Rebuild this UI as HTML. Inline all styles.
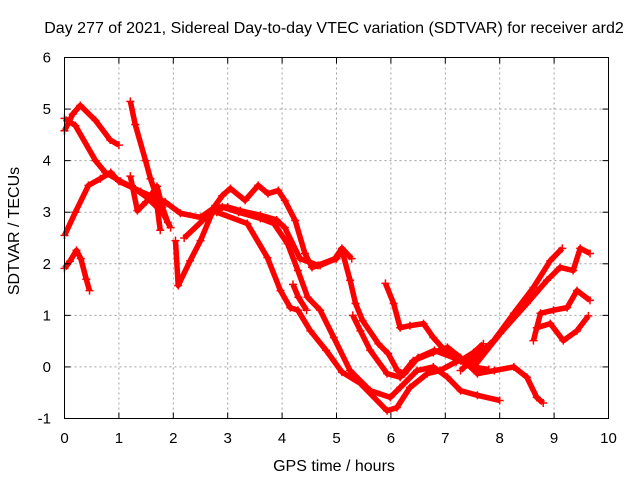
<!DOCTYPE html>
<html><head><meta charset="utf-8"><style>
body{margin:0;background:#fff}
svg{display:block;font-family:"Liberation Sans",sans-serif}
</style></head><body>
<svg id="chart" width="640" height="480" viewBox="0 0 640 480">
<rect width="640" height="480" fill="#fff"/>
<text x="334" y="33" font-size="16" text-anchor="middle">Day 277 of 2021, Sidereal Day-to-day VTEC variation (SDTVAR) for receiver ard2</text>
<g id="grid"></g>
<g id="series"></g>
<rect x="64.5" y="57.5" width="544" height="361" fill="none" stroke="#000" stroke-width="1"/>
<g id="ticks"></g>
<text x="334" y="471" font-size="16" text-anchor="middle">GPS time / hours</text>
<text x="19" y="231" font-size="16" text-anchor="middle" transform="rotate(-90 19 231)">SDTVAR / TECUs</text>
</svg>
<script>
const xTicks=[0,1,2,3,4,5,6,7,8,9,10];
const yTicks=[-1,0,1,2,3,4,5,6];
const sA=[[0,1.91],[0.1,2.05],[0.22,2.26],[0.3,2.1],[0.4,1.7],[0.46,1.48]];
const sB=[[0,2.55],[0.2,3.0],[0.44,3.52],[0.66,3.65],[0.85,3.77],[1.0,3.6],[1.3,3.45],[1.5,3.3],[1.8,3.0],[1.95,2.7]];
const sC=[[0,4.58],[0.15,4.9],[0.29,5.07],[0.57,4.78],[0.84,4.4],[1.0,4.3]];
const sD=[[0,4.82],[0.2,4.68],[0.57,4.0],[0.75,3.77],[1.03,3.6],[1.4,3.4],[1.85,3.2],[2.13,2.98],[2.5,2.9],[2.77,3.1],[3.0,3.1],[3.23,3.03],[3.6,2.94],[3.9,2.85],[4.05,2.7],[4.33,2.1],[4.66,1.97],[4.97,2.1],[5.1,2.3],[5.28,2.1]];
const sE=[[1.21,5.15],[1.3,4.7],[1.49,4.0],[1.58,3.65],[1.67,3.38],[1.76,2.65]];
const sF=[[1.21,3.7],[1.34,3.03],[1.5,3.2],[1.7,3.5],[1.8,3.1],[1.9,2.8]];
const sG=[[2.04,2.45],[2.09,1.58],[2.31,2.06],[2.5,2.45],[2.77,3.13],[2.9,3.32],[3.05,3.46],[3.32,3.23],[3.56,3.52],[3.74,3.36],[3.93,3.42],[4.05,3.23],[4.24,2.84],[4.42,2.2],[4.55,1.93],[4.7,1.97],[5.0,2.1],[5.1,2.26],[5.25,1.68],[5.35,1.23],[5.48,0.9],[5.77,0.45],[5.95,0.26],[6.12,-0.07],[6.25,-0.13],[6.5,0.18],[6.8,0.32],[7.15,0.18],[7.5,0.0],[7.8,-0.05]];
const sH=[[2.2,2.5],[2.6,2.9],[2.9,3.1],[3.2,3.0],[3.6,2.88],[3.85,2.78],[4.1,2.39],[4.29,1.87],[4.47,1.35],[4.7,1.1],[4.95,0.57],[5.25,-0.07],[5.62,-0.46],[5.99,-0.59],[6.17,-0.4],[6.48,-0.07],[6.78,0],[7.04,-0.2],[7.28,-0.46],[7.59,-0.55],[8.0,-0.65]];
const sI=[[2.8,3.0],[3.36,2.78],[3.73,2.12],[3.97,1.48],[4.15,1.15],[4.29,1.1],[4.52,0.7],[4.81,0.32],[5.1,-0.1],[5.44,-0.32],[5.93,-0.85],[6.11,-0.79],[6.35,-0.4],[6.67,-0.13],[6.9,-0.07],[7.2,0.1],[7.5,0.2]];
const sJ1=[[4.2,1.6],[4.3,1.35],[4.45,1.1]];
const sJ=[[5.3,1.0],[5.44,0.7],[5.62,0.32],[5.93,-0.13],[6.17,-0.2],[6.41,0.12],[6.78,0.28],[7.04,0.38],[7.28,0.18],[7.59,-0.13],[7.9,-0.07],[8.26,0],[8.5,-0.2],[8.68,-0.59],[8.8,-0.7]];
const sK=[[5.9,1.62],[6.05,1.23],[6.17,0.76],[6.35,0.8],[6.6,0.84],[6.78,0.57],[7.04,0.26],[7.28,0.12],[7.52,0.28],[7.7,0.45]];
const sL=[[7.28,-0.07],[7.89,0.51],[8.26,1.04],[8.62,1.54],[8.93,2.06],[9.15,2.3]];
const sM=[[7.52,0],[8.01,0.65],[8.5,1.23],[8.87,1.68],[9.11,1.93],[9.35,1.87],[9.48,2.3],[9.66,2.2]];
const sN=[[8.62,0.51],[8.75,1.04],[8.99,1.1],[9.24,1.15],[9.42,1.48],[9.66,1.29]];
const sO=[[8.68,0.76],[8.93,0.84],[9.17,0.51],[9.42,0.7],[9.63,0.99]];
const seriesList=[sA,sB,sC,sD,sE,sF,sG,sH,sI,sJ1,sJ,sK,sL,sM,sN,sO];

const NS='http://www.w3.org/2000/svg';
const X0=64.5,X1=608.5,Y0=418.5,Y1=57.5;
function xs(t){return X0+(t-0)/(10-0)*(X1-X0);}
function ys(v){return Y0-(v+1)/(6+1)*(Y0-Y1);}
const grid=document.getElementById('grid'),ticks=document.getElementById('ticks'),ser=document.getElementById('series');
xTicks.forEach(t=>{
 const x=xs(t);
 if(t>0&&t<10){const l=document.createElementNS(NS,'line');
 
 
 l.setAttribute('x1',x);l.setAttribute('x2',x);l.setAttribute('y1',Y1);l.setAttribute('y2',Y0);
 l.setAttribute('stroke','#a0a0a0');l.setAttribute('stroke-dasharray','2,3');grid.appendChild(l);}
 [[Y0,Y0-6],[Y1,Y1+6]].forEach(p=>{const k=document.createElementNS(NS,'line');
 
 
 k.setAttribute('x1',x);k.setAttribute('x2',x);k.setAttribute('y1',p[0]);k.setAttribute('y2',p[1]);k.setAttribute('stroke','#000');ticks.appendChild(k);});
 const tx=document.createElementNS(NS,'text');
 
 
 tx.setAttribute('x',x);tx.setAttribute('y',443);tx.setAttribute('font-size','15');tx.setAttribute('text-anchor','middle');tx.textContent=t;ticks.appendChild(tx);
});
yTicks.forEach(v=>{
 const y=ys(v);
 if(v>-1&&v<6){const l=document.createElementNS(NS,'line');
 
 
 l.setAttribute('x1',X0);l.setAttribute('x2',X1);l.setAttribute('y1',y);l.setAttribute('y2',y);
 l.setAttribute('stroke','#a0a0a0');l.setAttribute('stroke-dasharray','2,3');grid.appendChild(l);}
 [[X0,X0+6],[X1,X1-6]].forEach(p=>{const k=document.createElementNS(NS,'line');
 
 
 k.setAttribute('x1',p[0]);k.setAttribute('x2',p[1]);k.setAttribute('y1',y);k.setAttribute('y2',y);k.setAttribute('stroke','#000');ticks.appendChild(k);});
 const tx=document.createElementNS(NS,'text');
 
 
 tx.setAttribute('x',51);tx.setAttribute('y',y+5);tx.setAttribute('font-size','15');tx.setAttribute('text-anchor','end');tx.textContent=v;ticks.appendChild(tx);
});
seriesList.forEach(s=>{
 const pl=document.createElementNS(NS,'polyline');
 
 
 pl.setAttribute('points',s.map(p=>xs(p[0])+','+ys(p[1])).join(' '));
 pl.setAttribute('fill','none');pl.setAttribute('stroke','#ff0000');pl.setAttribute('stroke-width','5.5');
 pl.setAttribute('stroke-linejoin','round');
 ser.appendChild(pl);
 s.forEach(p=>{const m=document.createElementNS(NS,'path');
 
 
 const x=xs(p[0]),y=ys(p[1]);
 m.setAttribute('d','M'+(x-4)+' '+y+'h8M'+x+' '+(y-4)+'v8');m.setAttribute('stroke','#ff0000');m.setAttribute('stroke-width','1.5');ser.appendChild(m);});
});
</script>
</body></html>
